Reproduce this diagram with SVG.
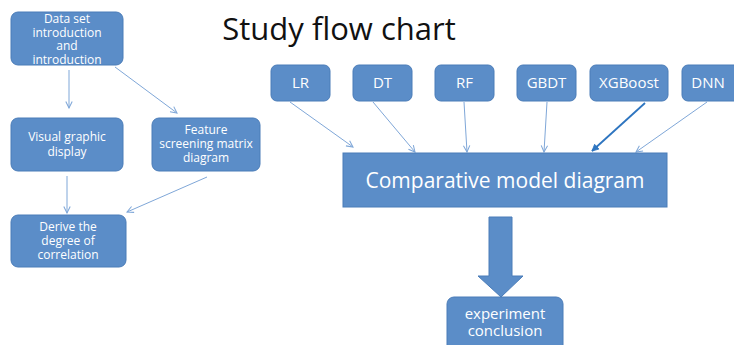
<svg xmlns="http://www.w3.org/2000/svg" width="734" height="345" viewBox="0 0 734 345">
<defs>
<style>
.box{fill:#5B8DC8;stroke:#4A7CB8;stroke-width:1}
.t{font-family:"Open Sans","Noto Sans","DejaVu Sans",sans-serif;fill:#ffffff;text-anchor:middle}
.s{font-size:12px}
.m{font-size:15px}
.c{stroke:#7FA7D8;stroke-width:1;fill:none;marker-end:url(#ah)}
</style>
<marker id="ah" viewBox="0 0 10 10" refX="9" refY="5" markerWidth="8" markerHeight="8" markerUnits="userSpaceOnUse" orient="auto">
<path d="M1,1 L9,5 L1,9" fill="none" stroke="#7FA7D8" stroke-width="1.3"/>
</marker>
<marker id="ahd" viewBox="0 0 10 10" refX="9" refY="5" markerWidth="8" markerHeight="8" markerUnits="userSpaceOnUse" orient="auto">
<path d="M1,1 L9,5 L1,9 Z" fill="#2E75C0" stroke="#2E75C0" stroke-width="1"/>
</marker>
</defs>
<rect width="734" height="345" fill="#ffffff"/>
<text x="339" y="40" font-family="'Open Sans','Noto Sans',sans-serif" font-size="31" fill="#111111" text-anchor="middle">Study flow chart</text>

<g id="connectors">
<line class="c" x1="69" y1="70" x2="69" y2="108"/>
<line class="c" x1="115" y1="67" x2="177" y2="113"/>
<line class="c" x1="67" y1="176" x2="67" y2="213"/>
<line class="c" x1="207" y1="177" x2="127" y2="212"/>
<line class="c" x1="290" y1="102" x2="353" y2="147"/>
<line class="c" x1="373" y1="102" x2="415" y2="152"/>
<line class="c" x1="464" y1="102" x2="467" y2="152"/>
<line class="c" x1="547" y1="102" x2="544" y2="152"/>
<line x1="645" y1="103" x2="592" y2="151" stroke="#2E75C0" stroke-width="1.8" marker-end="url(#ahd)"/>
<line class="c" x1="707" y1="102" x2="636" y2="152"/>
<path id="bigarrow" d="M489,217 L512,217 L512,276 L523,276 L501,297 L478,276 L489,276 Z" fill="#5B8DC8" stroke="#4A7CB8" stroke-width="1"/>
</g>

<g id="n-dataset"><rect class="box" x="11" y="12" width="112" height="53" rx="7"/>
<text class="t s" x="67" y="23">Data set</text>
<text class="t s" x="67" y="37">introduction</text>
<text class="t s" x="67" y="50">and</text>
<text class="t s" x="67" y="64">introduction</text></g>

<g id="n-visual"><rect class="box" x="11" y="118" width="112" height="53" rx="7"/>
<text class="t s" x="67" y="141">Visual graphic</text>
<text class="t s" x="67" y="156">display</text></g>

<g id="n-feature"><rect class="box" x="152" y="118" width="108" height="53" rx="7"/>
<text class="t s" x="206" y="134">Feature</text>
<text class="t s" x="206" y="148">screening matrix</text>
<text class="t s" x="206" y="162">diagram</text></g>

<g id="n-derive"><rect class="box" x="11" y="215" width="115" height="52" rx="7"/>
<text class="t s" x="68" y="231">Derive the</text>
<text class="t s" x="68" y="245">degree of</text>
<text class="t s" x="68" y="259">correlation</text></g>

<g id="n-lr"><rect class="box" x="271" y="65" width="59" height="36" rx="6"/>
<text class="t m" x="300.5" y="88">LR</text></g>
<g id="n-dt"><rect class="box" x="353" y="65" width="59" height="36" rx="6"/>
<text class="t m" x="382.5" y="88">DT</text></g>
<g id="n-rf"><rect class="box" x="435" y="65" width="59" height="36" rx="6"/>
<text class="t m" x="464.5" y="88">RF</text></g>
<g id="n-gbdt"><rect class="box" x="517" y="65" width="59" height="36" rx="6"/>
<text class="t m" x="546.5" y="88">GBDT</text></g>
<g id="n-xgb"><rect class="box" x="590" y="65" width="78" height="36" rx="6"/>
<text class="t m" x="629" y="88">XGBoost</text></g>
<g id="n-dnn"><rect class="box" x="682" y="65" width="60" height="36" rx="6"/>
<text class="t m" x="708" y="88">DNN</text></g>

<g id="n-compare"><rect class="box" x="343" y="153" width="324" height="54"/>
<text class="t" x="505" y="188" font-size="21">Comparative model diagram</text></g>

<g id="n-conclusion"><rect class="box" x="447" y="297" width="116" height="60" rx="7"/>
<text class="t m" x="505" y="319">experiment</text>
<text class="t m" x="505" y="336">conclusion</text></g>
</svg>
